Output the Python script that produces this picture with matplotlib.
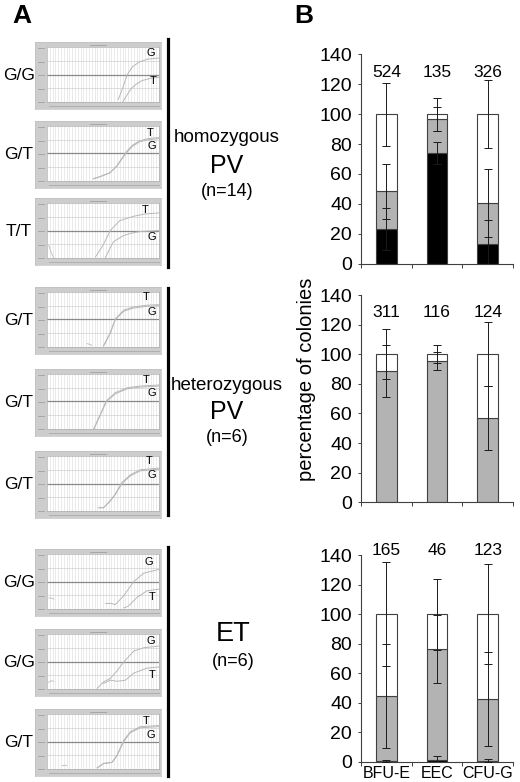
import numpy as np
import matplotlib.pyplot as plt
from matplotlib.lines import Line2D

W, H = 520, 782
plt.rcParams['font.family'] = ['Liberation Sans', 'DejaVu Sans']

# ---- panel B data (percent of colonies, stacked: black / gray / white) ----
categories = ['BFU-E', 'EEC', 'CFU-G']

hom_counts = [524, 135, 326]
hom_black = [23.0, 74.2, 13.0]
hom_gray = [25.4, 22.5, 27.8]
hom_white = [51.6, 3.3, 59.2]
hom_black_err = [14.0, 7.4, 16.0]
hom_gray_err = [18.5, 8.0, 22.7]
hom_white_err = [21.0, 11.0, 22.5]

het_counts = [311, 116, 124]
het_black = [0.0, 0.0, 0.0]
het_gray = [88.7, 95.6, 56.7]
het_white = [11.3, 4.4, 43.3]
het_black_err = [0.0, 0.0, 0.0]
het_gray_err = [17.5, 6.0, 21.7]
het_white_err = [17.0, 6.0, 21.5]

et_counts = [165, 46, 123]
et_black = [0.8, 1.5, 0.8]
et_gray = [43.8, 74.7, 41.8]
et_white = [55.4, 23.8, 57.4]
et_black_err = [0.6, 2.5, 1.0]
et_gray_err = [35.3, 23.0, 32.0]
et_white_err = [35.0, 24.0, 34.0]

# ---- panel A data (amplification plots, cycle vs normalised signal) ----
genotypes = ['G/G', 'G/T', 'T/T', 'G/T', 'G/T', 'G/T', 'G/G', 'G/G', 'G/T']

g_curves = [
    ([25.5, 27, 28.7, 30.5, 33, 36, 40], [0.05, 0.25, 0.5, 0.64, 0.73, 0.78, 0.8]),
    ([16.5, 19, 22.5, 25, 27, 28.5, 30.5, 33, 36, 40],
     [0.04, 0.08, 0.15, 0.27, 0.42, 0.52, 0.63, 0.71, 0.75, 0.77]),
    ([20.8, 22.5, 23.8, 27.4, 30, 33, 40], [0.0, 0.18, 0.3, 0.41, 0.45, 0.48, 0.5]),
    ([20.2, 22.6, 24.4, 27.4, 31, 35.7, 40], [0.02, 0.25, 0.5, 0.65, 0.71, 0.74, 0.75]),
    ([16.7, 19, 21.2, 24.4, 28.6, 33, 40], [0.0, 0.25, 0.5, 0.64, 0.73, 0.76, 0.78]),
    ([18.5, 20.2, 22.6, 24.4, 26.8, 29.8, 33.3, 40],
     [0.06, 0.06, 0.18, 0.3, 0.5, 0.64, 0.73, 0.76]),
    ([21, 23, 24.4, 27.4, 31, 34.5, 40], [0.1, 0.1, 0.08, 0.24, 0.5, 0.65, 0.72]),
    ([17.9, 20.2, 22.6, 25, 27.4, 31, 34.5, 40],
     [0.01, 0.13, 0.19, 0.33, 0.49, 0.69, 0.75, 0.78]),
    ([17.9, 20.2, 23.2, 25, 27.4, 29.8, 33.3, 40],
     [0.02, 0.1, 0.12, 0.24, 0.5, 0.66, 0.75, 0.77]),
]
t_curves = [
    ([27, 28.5, 30, 32, 34, 37, 40], [0.0, 0.12, 0.24, 0.33, 0.39, 0.43, 0.45]),
    ([16.5, 19, 22.5, 25, 27, 28.5, 30.5, 33, 36, 40],
     [0.04, 0.08, 0.15, 0.28, 0.43, 0.54, 0.65, 0.73, 0.77, 0.79]),
    ([17.3, 20, 22.6, 26, 31, 35, 40], [0.02, 0.23, 0.5, 0.68, 0.76, 0.8, 0.82]),
    ([20.2, 22.6, 24.4, 27.4, 31, 35.7, 40], [0.02, 0.26, 0.51, 0.67, 0.73, 0.76, 0.77]),
    ([16.7, 19, 21.2, 24.4, 28.6, 33, 40], [0.0, 0.26, 0.51, 0.66, 0.75, 0.78, 0.8]),
    ([18.5, 20.2, 22.6, 24.4, 26.8, 29.8, 33.3, 40],
     [0.06, 0.06, 0.19, 0.31, 0.52, 0.66, 0.75, 0.78]),
    ([27.4, 29, 32.1, 35.7, 40], [0.02, 0.05, 0.21, 0.33, 0.36]),
    ([20.2, 22.6, 25, 28, 31, 35.7, 40], [0.1, 0.16, 0.14, 0.16, 0.29, 0.38, 0.4]),
    ([17.9, 20.2, 23.2, 25, 27.4, 29.8, 33.3, 40],
     [0.02, 0.1, 0.12, 0.25, 0.52, 0.68, 0.77, 0.79]),
]
noise_curves = [
    None, None, ([0.6, 1.5, 2.4], [0.23, 0.1, 0.0]),
    ([14.3, 15.2, 16], [0.06, 0.05, 0.03]), None, None,
    ([0.6, 1.5, 2.4], [0.2, 0.2, 0.18]), ([0.6, 1.5, 2.4], [0.12, 0.15, 0.14]),
    ([5.4, 6.2, 7], [0.06, 0.07, 0.06]),
]
# (x, y) of the "G" and "T" tags inside each plot
g_tags = [(37, 0.89), (37.5, 0.63), (37.5, 0.38), (37.5, 0.64), (37.5, 0.65),
          (37.5, 0.66), (36.5, 0.86), (37, 0.87), (37, 0.62)]
t_tags = [(38, 0.38), (37, 0.88), (35, 0.88), (35.5, 0.9), (35.5, 0.89),
          (36.5, 0.9), (37.5, 0.22), (37.5, 0.25), (35.5, 0.88)]
thumb_tops = [42, 121, 198, 287, 369, 451, 549, 629, 709]

group_bars = [(39, 267), (288, 515), (547, 776)]


def fx(px):
    return px / W


def fy(py):
    return 1 - py / H


fig = plt.figure(figsize=(5.2, 7.82), dpi=100)

# ---------------- panel A ----------------
tw, th = 126, 67
for i, top in enumerate(thumb_tops):
    left = 35
    frame = fig.add_axes([fx(left), fy(top + th), tw / W, th / H], zorder=0)
    frame.set_facecolor('#cdcdcd')
    frame.set_xticks([])
    frame.set_yticks([])
    for sp in frame.spines.values():
        sp.set_color('#c0c0c0')
        sp.set_linewidth(0.5)
    # faint tick-label dots along the left and bottom margins
    frame.set_xlim(0, tw)
    frame.set_ylim(0, th)
    for yy in (7, 20.5, 34, 47.5, 61):
        frame.plot([2.5, 9], [yy, yy], color='#a0a0a0', lw=0.6)
    for xx in range(14, tw - 3, 3):
        frame.plot([xx, xx + 1.5], [3.5, 3.5], color='#a8a8a8', lw=0.6)
    frame.plot([tw / 2 - 8, tw / 2 + 8], [64.5, 64.5], color='#a0a0a0', lw=0.6)

    ax = fig.add_axes([fx(left + 12), fy(top + th - 7), (tw - 14) / W, (th - 12) / H],
                      zorder=1)
    ax.set_facecolor('white')
    ax.set_xlim(0, 40)
    ax.set_ylim(0, 1)
    ax.set_xticks([])
    ax.set_yticks([])
    for c in range(1, 40):
        ax.axvline(c, color='#dadada', lw=0.4, zorder=1)
    for lev in (0.25, 0.75):
        ax.axhline(lev, color='#d0d0d0', lw=0.5, zorder=1)
    ax.axhline(0.5, color='#8a8a8a', lw=0.9, zorder=2)
    for sp in ax.spines.values():
        sp.set_color('#b0b0b0')
        sp.set_linewidth(0.5)
    ax.plot(*g_curves[i], color='#b8b8b8', lw=0.7, zorder=3)
    ax.plot(*t_curves[i], color='#b8b8b8', lw=0.7, zorder=3)
    if noise_curves[i] is not None:
        ax.plot(*noise_curves[i], color='#bcbcbc', lw=0.6, zorder=3)
    ax.text(*g_tags[i], 'G', fontsize=8, ha='center', va='center', zorder=4)
    ax.text(*t_tags[i], 'T', fontsize=8, ha='center', va='center', zorder=4)
    fig.text(fx(19), fy(top + th / 2), genotypes[i], fontsize=12.5,
             ha='center', va='center')

for y0, y1 in group_bars:
    fig.add_artist(Line2D([fx(168), fx(168)], [fy(y0), fy(y1)],
                          color='black', lw=2.3, transform=fig.transFigure))

fig.text(fx(227), fy(138), 'homozygous', fontsize=13.5, ha='center', va='center')
fig.text(fx(227), fy(166), 'PV', fontsize=18, ha='center', va='center')
fig.text(fx(227), fy(192), '(n=14)', fontsize=13, ha='center', va='center')
fig.text(fx(227), fy(386), 'heterozygous', fontsize=13.5, ha='center', va='center')
fig.text(fx(227), fy(412), 'PV', fontsize=18, ha='center', va='center')
fig.text(fx(227), fy(437), '(n=6)', fontsize=13, ha='center', va='center')
fig.text(fx(233), fy(634), 'ET', fontsize=19.5, ha='center', va='center')
fig.text(fx(233), fy(662), '(n=6)', fontsize=13, ha='center', va='center')

fig.text(fx(22), fy(16), 'A', fontsize=19, fontweight='bold', ha='center', va='center')
fig.text(fx(304), fy(16), 'B', fontsize=19, fontweight='bold', ha='center', va='center')

# ---------------- panel B ----------------
EDGE = '#404040'


def stacked(ax, black, gray, white, berr, gerr, werr, counts, count_y, labels):
    x = np.arange(len(categories))
    black = np.array(black)
    gray = np.array(gray)
    white = np.array(white)
    bw = 0.41
    ax.bar(x, black, bw, color='black', edgecolor=EDGE, lw=0.8, zorder=2)
    ax.bar(x, gray, bw, bottom=black, color='#b3b3b3', edgecolor=EDGE, lw=0.8, zorder=2)
    ax.bar(x, white, bw, bottom=black + gray, color='white', edgecolor=EDGE, lw=0.8, zorder=2)
    for tops, err in ((black, berr), (black + gray, gerr), (black + gray + white, werr)):
        err = np.array(err)
        keep = err > 0
        if keep.any():
            ax.errorbar(x[keep], tops[keep], yerr=err[keep], fmt='none',
                        ecolor='#1a1a1a', elinewidth=0.7, capsize=3.2,
                        capthick=0.7, zorder=3)
    for i, c in enumerate(counts):
        ax.text(x[i], count_y, str(c), fontsize=12.5, ha='center', va='center')
    ax.set_xlim(-0.5, 2.5)
    ax.set_ylim(0, 140)
    ax.set_yticks(range(0, 141, 20))
    ax.set_yticklabels([str(v) for v in range(0, 141, 20)], fontsize=14)
    ax.set_xticks(x)
    ax.set_xticks([-0.5, 0.5, 1.5, 2.5], minor=True)
    if labels:
        ax.set_xticklabels(categories, fontsize=11.5)
    else:
        ax.set_xticklabels([])
    ax.tick_params(axis='x', which='major', length=0, pad=3)
    ax.tick_params(axis='x', which='minor', length=3, width=0.7, color=EDGE, direction='out')
    ax.tick_params(axis='y', length=2.5, width=0.7, color=EDGE, direction='out', pad=4)
    for s in ('top', 'right'):
        ax.spines[s].set_visible(False)
    for s in ('left', 'bottom'):
        ax.spines[s].set_color(EDGE)
        ax.spines[s].set_linewidth(0.8)


bl, bwid = fx(361), 152 / W
ax1 = fig.add_axes([bl, fy(263.7), bwid, 209.4 / H])
stacked(ax1, hom_black, hom_gray, hom_white, hom_black_err, hom_gray_err,
        hom_white_err, hom_counts, 128, False)
ax2 = fig.add_axes([bl, fy(502.3), bwid, 207.3 / H])
stacked(ax2, het_black, het_gray, het_white, het_black_err, het_gray_err,
        het_white_err, het_counts, 128, False)
ax3 = fig.add_axes([bl, fy(762), bwid, 207 / H])
stacked(ax3, et_black, et_gray, et_white, et_black_err, et_gray_err,
        et_white_err, et_counts, 143, True)

fig.text(fx(306), fy(379), 'percentage of colonies', fontsize=14.5,
         rotation=90, ha='center', va='center')

fig.savefig('out.png', dpi=100)
